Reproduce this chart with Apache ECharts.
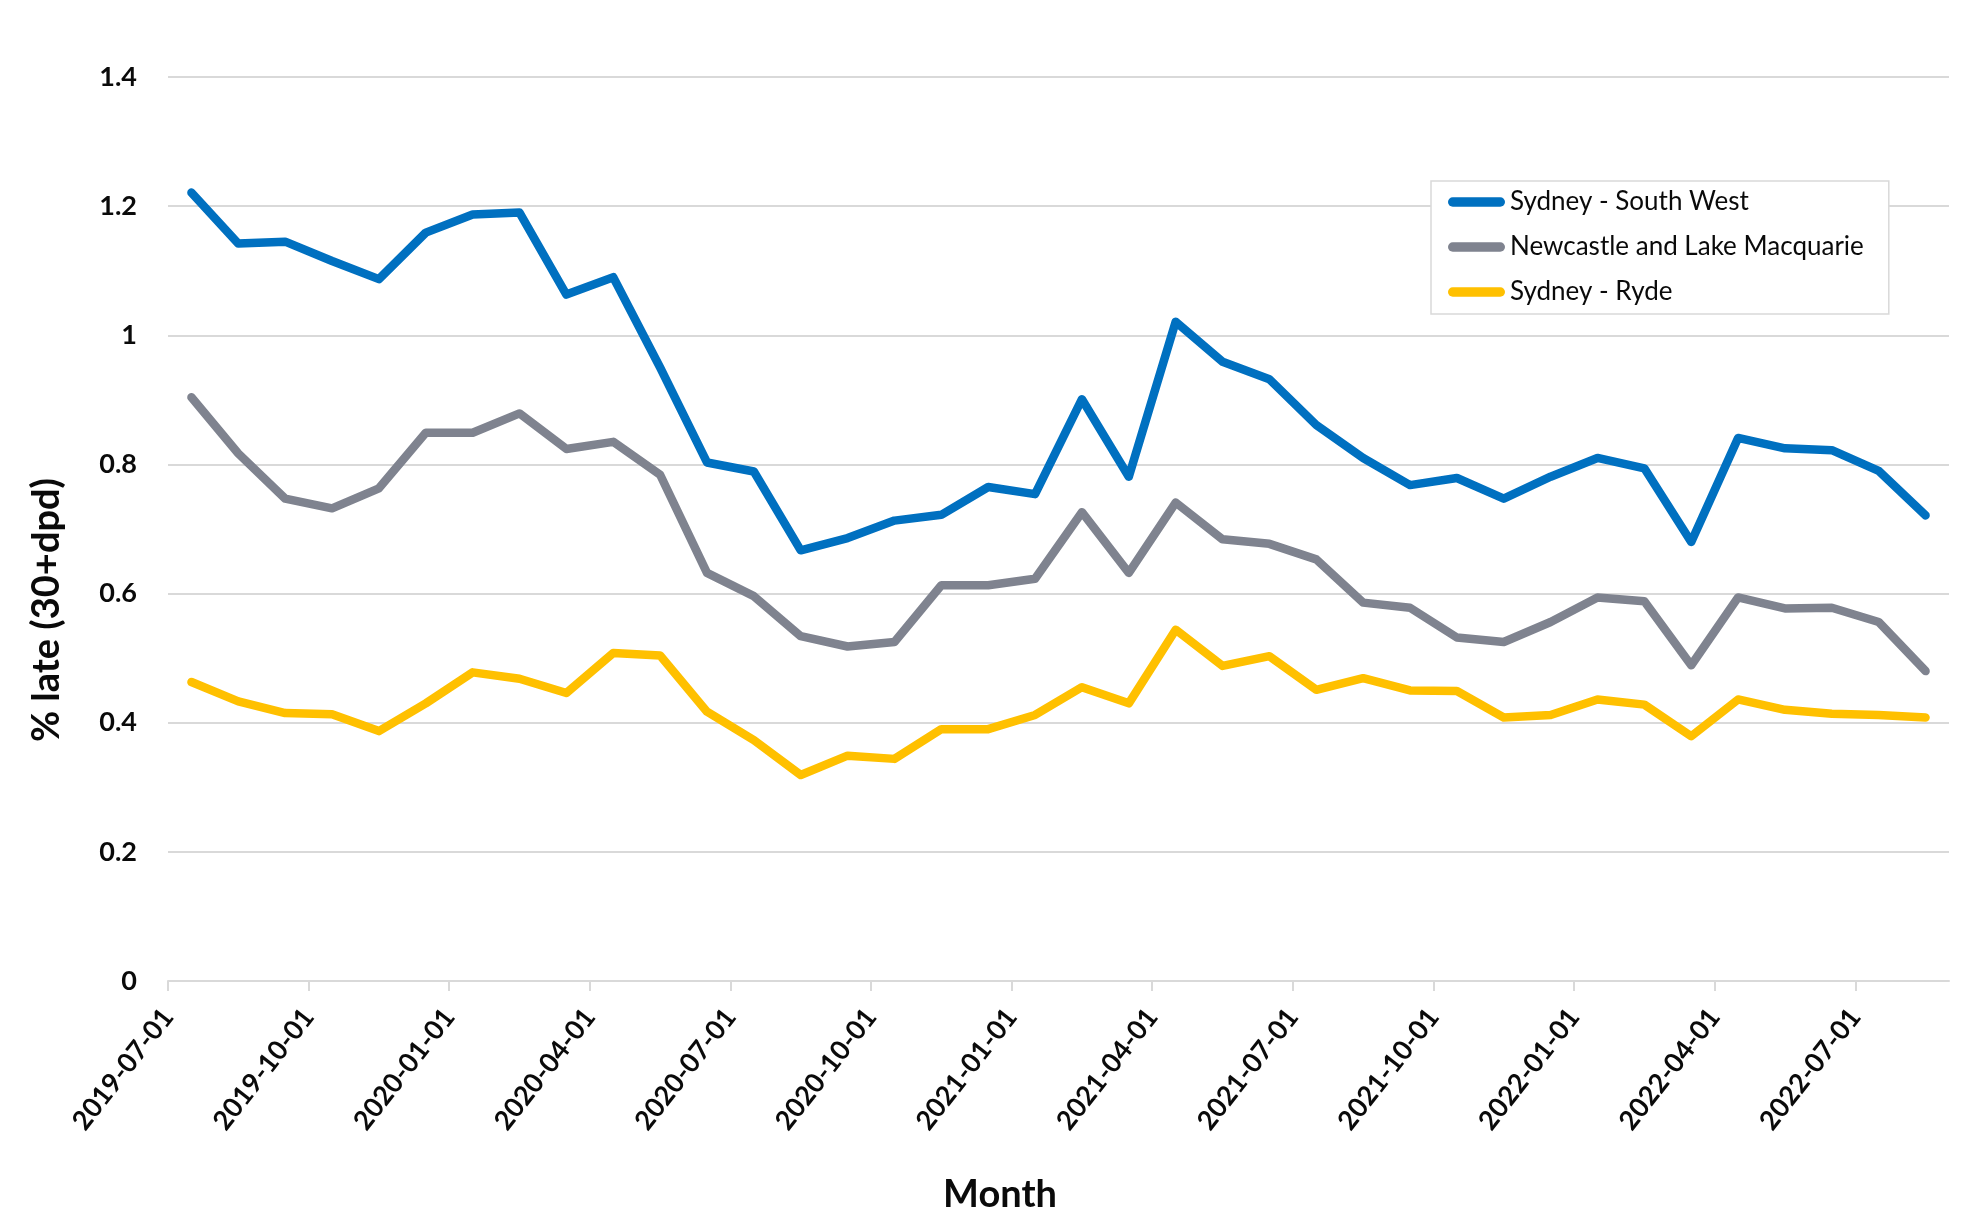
<!DOCTYPE html>
<html>
<head>
<meta charset="utf-8">
<script src="https://cdn.jsdelivr.net/npm/echarts@6/dist/echarts.min.js"></script>
<style>
html,body{margin:0;padding:0;background:#fff;}
#chart{width:1977px;height:1223px;}
</style>
</head>
<body>
<div id="chart"></div>
<script>
var months = ['2019-07-01','2019-08-01','2019-09-01','2019-10-01','2019-11-01','2019-12-01',
  '2020-01-01','2020-02-01','2020-03-01','2020-04-01','2020-05-01','2020-06-01',
  '2020-07-01','2020-08-01','2020-09-01','2020-10-01','2020-11-01','2020-12-01',
  '2021-01-01','2021-02-01','2021-03-01','2021-04-01','2021-05-01','2021-06-01',
  '2021-07-01','2021-08-01','2021-09-01','2021-10-01','2021-11-01','2021-12-01',
  '2022-01-01','2022-02-01','2022-03-01','2022-04-01','2022-05-01','2022-06-01',
  '2022-07-01','2022-08-01'];
var tickLabels = ['2019-07-01','2019-10-01','2020-01-01','2020-04-01','2020-07-01','2020-10-01',
  '2021-01-01','2021-04-01','2021-07-01','2021-10-01','2022-01-01','2022-04-01','2022-07-01'];
var seriesNames = ['Sydney - South West','Newcastle and Lake Macquarie','Sydney - Ryde'];
var southWest = [1.221,1.142,1.145,1.115,1.087,1.159,1.187,1.190,1.063,1.090,
  0.950,0.803,0.789,0.667,0.686,0.713,0.722,0.765,0.754,0.901,
  0.781,1.021,0.959,0.932,0.861,0.810,0.768,0.779,0.747,
  0.781,0.810,0.794,0.680,0.841,0.825,0.822,0.790,0.721];
var newcastle = [0.904,0.817,0.747,0.732,0.763,0.849,0.849,0.879,0.824,0.835,
  0.784,0.632,0.596,0.534,0.518,0.525,0.613,0.613,0.623,0.726,
  0.632,0.741,0.684,0.677,0.653,0.586,0.578,0.532,0.525,
  0.556,0.594,0.588,0.489,0.594,0.577,0.578,0.556,0.480];
var ryde = [0.463,0.433,0.415,0.413,0.387,0.430,0.478,0.468,0.446,0.508,
  0.504,0.417,0.373,0.319,0.349,0.344,0.390,0.390,0.412,0.455,
  0.430,0.544,0.488,0.503,0.451,0.469,0.450,0.449,0.408,
  0.412,0.436,0.428,0.379,0.436,0.420,0.414,0.412,0.408];
var yTicks = [0,0.2,0.4,0.6,0.8,1,1.2,1.4];
var colors = ['#0070C0','#7F838F','#FFC000'];

var tickIdx = tickLabels.map(function(l){ return months.indexOf(l); });
function toPairs(vals){ return vals.map(function(v,i){ return [i + 0.5, v]; }); }
var allVals = [southWest, newcastle, ryde];

var FONT = 'Lato, "Open Sans", sans-serif';
var INK = '#0a0a0a';
var chart = echarts.init(document.getElementById('chart'), null, {renderer:'canvas'});
var capsule = 'path://M5,0 L55,0 A5,5 0 0 1 55,10 L5,10 A5,5 0 0 1 5,0 Z';

chart.setOption({
  backgroundColor: '#ffffff',
  animation: false,
  grid: {left:168, right:28, top:77, bottom:242, containLabel:false},
  legend: {
    data: seriesNames,
    orient: 'vertical',
    left: 1431, top: 181,
    padding: [7, 25, 8, 17],
    itemGap: 17,
    itemWidth: 57, itemHeight: 11,
    icon: capsule,
    borderColor: '#d9d9d9', borderWidth: 1.5,
    backgroundColor: '#ffffff',
    textStyle: {fontFamily: FONT, fontSize: 26, color: INK, lineHeight: 28}
  },
  xAxis: {
    type: 'value',
    min: 0, max: months.length,
    axisLine: {show:true, lineStyle:{color:'#d9d9d9', width:2}},
    axisTick: {show:true, customValues: tickIdx, length: 10, lineStyle:{color:'#d9d9d9', width:2}},
    splitLine: {show:false},
    axisLabel: {
      customValues: tickIdx,
      rotate: 52,
      margin: 31,
      fontFamily: FONT, fontSize: 27, fontWeight: 'bold', color: INK,
      formatter: function(v){ return months[Math.round(v)] || ''; }
    }
  },
  yAxis: {
    type: 'value',
    min: yTicks[0], max: yTicks[yTicks.length-1], interval: 0.2,
    axisLine: {show:false},
    axisTick: {show:false},
    splitLine: {show:true, lineStyle:{color:'#d9d9d9', width:2}},
    axisLabel: {margin: 31, fontFamily: FONT, fontSize: 27, fontWeight: 'bold', color: INK}
  },
  graphic: [
    {type:'text', x:47, y:610, rotation: Math.PI/2,
      style:{text:'% late (30+dpd)', fontFamily: FONT, fontSize: 38, fontWeight:'bold', fill: INK,
        textAlign:'center', textVerticalAlign:'middle'}},
    {type:'text', x:1000, y:1195,
      style:{text:'Month', fontFamily: FONT, fontSize: 38, fontWeight:'bold', fill: INK,
        textAlign:'center', textVerticalAlign:'middle'}}
  ],
  series: seriesNames.map(function(name, k){
    return {
      name: name,
      type: 'line',
      data: toPairs(allVals[k]),
      showSymbol: false,
      symbol: 'none',
      color: colors[k],
      lineStyle: {width: 8.5, color: colors[k], cap: 'round', join: 'round'},
      itemStyle: {color: colors[k]}
    };
  })
});
</script>
</body>
</html>
